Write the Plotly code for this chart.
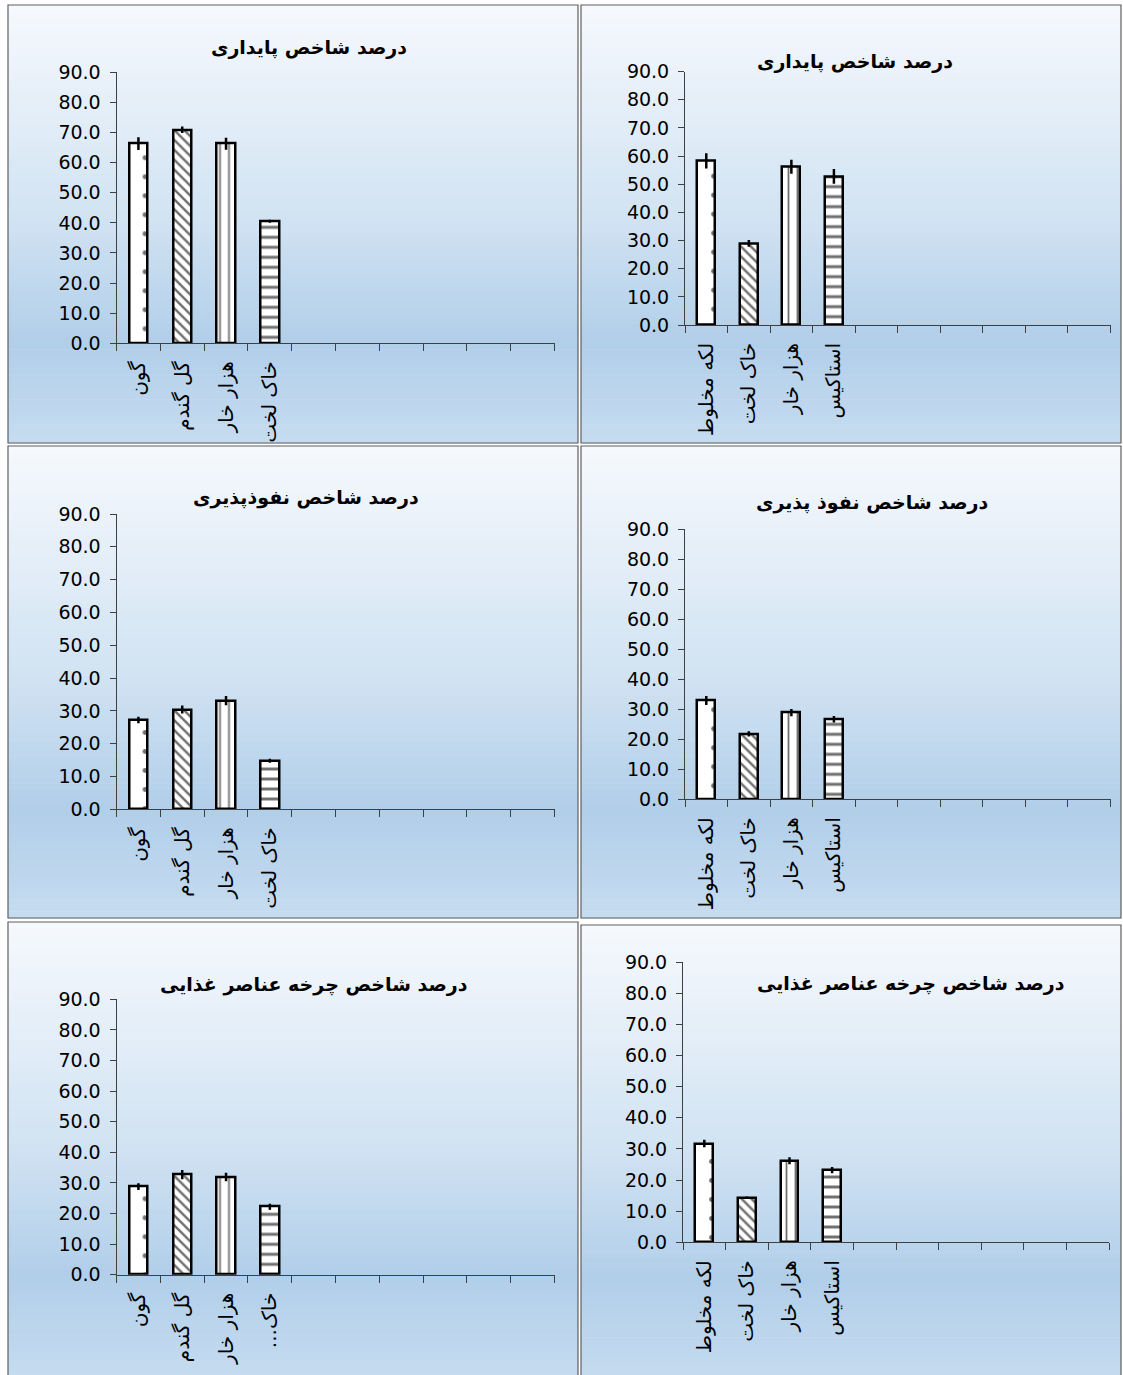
import plotly.graph_objects as go

W, H = 1123, 1375

# ---------------- data ----------------
title_stab_left = 'درصد شاخص پایداری'
title_stab_right = 'درصد شاخص پایداری'
title_inf_left = 'درصد شاخص نفوذپذیری'
title_inf_right = 'درصد شاخص نفوذ پذیری'
title_nut_left = 'درصد شاخص چرخه عناصر غذایی'
title_nut_right = 'درصد شاخص چرخه عناصر غذایی'

cats_left = ['گون', 'گل گندم', 'هزار خار', 'خاک لخت']
cats_left_nut = ['گون', 'گل گندم', 'هزار خار', 'خاک...\u200f']
cats_right = ['لکه مخلوط', 'خاک لخت', 'هزار خار', 'استاکیس']

stab_left = [66.3, 70.9, 66.3, 40.5]
stab_left_err = [2.1, 1.1, 2.0, 0.5]
stab_right = [58.3, 29.0, 56.2, 52.8]
stab_right_err = [2.7, 1.2, 2.5, 2.6]

inf_left = [27.2, 30.4, 33.1, 14.8]
inf_left_err = [1.0, 1.2, 1.4, 0.6]
inf_right = [32.9, 21.8, 28.9, 26.7]
inf_right_err = [1.5, 0.9, 1.2, 1.1]

nut_left = [28.8, 32.7, 31.9, 22.2]
nut_left_err = [1.1, 1.5, 1.4, 1.0]
nut_right = [31.7, 14.3, 26.2, 23.2]
nut_right_err = [1.2, 0.4, 1.1, 1.0]

y_ticks = [0, 10, 20, 30, 40, 50, 60, 70, 80, 90]
n_slots = 10

# ---------------- layout (pixels) ----------------
panels = [
    dict(title=title_stab_left, cats=cats_left, vals=stab_left, err=stab_left_err,
         frame=(8, 5, 578, 443), px=(116.5, 554.6), py=(72.3, 343.3), tc=(309, 47)),
    dict(title=title_stab_right, cats=cats_right, vals=stab_right, err=stab_right_err,
         frame=(581, 5, 1121, 443), px=(685, 1110.5), py=(71.7, 325), tc=(855, 62)),
    dict(title=title_inf_left, cats=cats_left, vals=inf_left, err=inf_left_err,
         frame=(8, 446, 578, 918), px=(116.5, 554.6), py=(514, 809.3), tc=(306, 498)),
    dict(title=title_inf_right, cats=cats_right, vals=inf_right, err=inf_right_err,
         frame=(581, 446, 1121, 918), px=(685, 1110.5), py=(529.3, 799.3), tc=(872, 502)),
    dict(title=title_nut_left, cats=cats_left_nut, vals=nut_left, err=nut_left_err,
         frame=(8, 922, 578, 1380), px=(116.5, 554.6), py=(999.3, 1274.7), tc=(314, 985)),
    dict(title=title_nut_right, cats=cats_right, vals=nut_right, err=nut_right_err,
         frame=(581, 925, 1121, 1383), px=(683, 1109), py=(962, 1242.3), tc=(911, 983)),
]

pattern_shapes = ['.', '\\', '|', '-']
pattern_sizes = [19, 7, 9, 10]
pattern_solid = [0.05, 0.35, 0.2, 0.3]

axis_color = '#404040'
num_font = dict(family='DejaVu Sans, Arial, sans-serif', size=19, color='black')
lab_font = dict(family='DejaVu Sans, Arial, sans-serif', size=20, color='black')
title_font = dict(family='DejaVu Sans, Arial, sans-serif', size=19, color='black')

grad_stops = [(0.0, (246, 249, 253)), (0.5, (208, 226, 242)), (0.77, (177, 206, 233)), (1.0, (198, 220, 240))]


def grad_color(t):
    for (t0, c0), (t1, c1) in zip(grad_stops[:-1], grad_stops[1:]):
        if t0 <= t <= t1:
            f = (t - t0) / (t1 - t0) if t1 > t0 else 0
            c = [round(a + (b - a) * f) for a, b in zip(c0, c1)]
            return 'rgb(%d,%d,%d)' % tuple(c)
    return 'rgb(%d,%d,%d)' % grad_stops[-1][1]


fig = go.Figure()
shapes = []
annotations = []
layout = {}

N_BANDS = 70
for i, p in enumerate(panels, start=1):
    fx0, fy0, fx1, fy1 = p['frame']
    for k in range(N_BANDS):
        a = fy0 + (fy1 - fy0) * k / N_BANDS
        b = fy0 + (fy1 - fy0) * (k + 1) / N_BANDS + 0.6
        shapes.append(dict(type='rect', xref='paper', yref='paper', layer='below',
                           x0=fx0 / W, x1=fx1 / W, y0=1 - a / H, y1=1 - b / H,
                           line=dict(width=0), fillcolor=grad_color((k + 0.5) / N_BANDS)))
    shapes.append(dict(type='rect', xref='paper', yref='paper', layer='above',
                       x0=fx0 / W, x1=fx1 / W, y0=1 - fy0 / H, y1=1 - fy1 / H,
                       line=dict(width=1.2, color='#5f5f5f'), fillcolor='rgba(0,0,0,0)'))

    sx = '' if i == 1 else str(i)
    xname, yname = 'x' + sx, 'y' + sx
    layout['xaxis' + sx] = dict(
        domain=[p['px'][0] / W, p['px'][1] / W], anchor=yname, automargin=False,
        range=[-0.5, n_slots - 0.5], tickmode='array',
        tickvals=list(range(len(p['cats']))), ticktext=p['cats'],
        tickangle=-90, ticks='', showline=True, linecolor=axis_color, linewidth=1,
        showgrid=False, zeroline=False, tickfont=lab_font, ticklabelstandoff=9,
        minor=dict(tickmode='array', tickvals=[k - 0.5 for k in range(n_slots + 1)],
                   ticks='outside', ticklen=7, tickcolor=axis_color, tickwidth=1, showgrid=False),
        fixedrange=True)
    layout['yaxis' + sx] = dict(
        domain=[1 - p['py'][1] / H, 1 - p['py'][0] / H], anchor=xname, automargin=False,
        range=[0, 90], tickmode='array', tickvals=y_ticks, tickformat='.1f',
        ticks='outside', ticklen=6, tickcolor=axis_color, showline=True,
        linecolor=axis_color, linewidth=1, showgrid=False, zeroline=False,
        tickfont=num_font, ticklabelstandoff=5, fixedrange=True)

    fig.add_trace(go.Bar(
        x=list(range(len(p['cats']))), y=p['vals'], xaxis=xname, yaxis=yname,
        width=0.42, uid='panel%d' % i,
        marker=dict(color='white',
                    line=dict(color='black', width=2.5),
                    pattern=dict(shape=pattern_shapes, size=pattern_sizes,
                                 solidity=pattern_solid, fgcolor='#707070',
                                 bgcolor='white', fillmode='replace')),
        error_y=dict(type='data', array=p['err'], visible=True, color='black',
                     thickness=2.5, width=0),
        showlegend=False, hoverinfo='skip'))

    annotations.append(dict(text='<b>' + p['title'] + '</b>', xref='paper', yref='paper',
                            x=p['tc'][0] / W, y=1 - p['tc'][1] / H, xanchor='center',
                            yanchor='middle', showarrow=False, font=title_font))

fig.update_layout(
    width=W, height=H, margin=dict(l=0, r=0, t=0, b=0, autoexpand=False),
    paper_bgcolor='white', plot_bgcolor='rgba(0,0,0,0)',
    shapes=shapes, annotations=annotations, showlegend=False, bargap=0,
    **layout)

fig.write_html('out.html', config={'displayModeBar': False},
               post_script="document.body.style.margin='0';document.body.style.overflow='hidden';")
